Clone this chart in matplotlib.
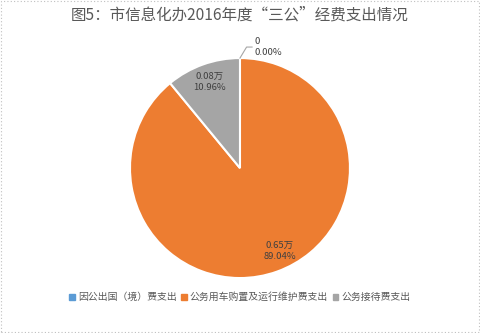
import numpy as np
import matplotlib.pyplot as plt
from matplotlib.patches import Rectangle

plt.rcParams['font.family'] = ['Noto Sans CJK SC', 'DejaVu Sans']

title = '图5：市信息化办2016年度“三公”经费支出情况'
categories = ['因公出国（境）费支出', '公务用车购置及运行维护费支出', '公务接待费支出']
values = [0, 0.65, 0.08]
value_labels = ['0', '0.65万', '0.08万']
colors = ['#5B9BD5', '#ED7D31', '#A5A5A5']

fig = plt.figure(figsize=(4.8, 3.33), dpi=100)
ax = fig.add_axes([0.2708, 0.165, 0.4583, 0.6607])

wedges, _ = ax.pie(values, colors=colors, startangle=90, counterclock=False,
                   wedgeprops=dict(edgecolor='white', linewidth=1.5))
ax.set_xlim(-1, 1)
ax.set_ylim(-1, 1)
ax.set_aspect('equal')

total = sum(values)
# label distance and small x nudge per slice (as in the original layout)
label_pos = {1: (0.80, 0.09), 2: (0.83, 0.0)}
for i, w in enumerate(wedges):
    pct = values[i] / total * 100
    txt = value_labels[i] + '\n' + '%.2f%%' % pct
    mid = np.deg2rad((w.theta1 + w.theta2) / 2)
    if values[i] == 0:
        # leader line for the empty slice
        x0, y0 = np.cos(mid), np.sin(mid)
        ax.plot([x0, x0 + 0.06, x0 + 0.11], [y0, y0 + 0.10, y0 + 0.10],
                color='#A6A6A6', lw=0.8, clip_on=False)
        ax.text(x0 + 0.13, y0 + 0.10, txt, ha='left', va='center',
                fontsize=6.8, color='#404040', linespacing=1.3)
    else:
        r, dx = label_pos[i]
        ax.text(r * np.cos(mid) + dx, r * np.sin(mid), txt, ha='center', va='center',
                fontsize=6.8, color='#404040', linespacing=1.3)

fig.text(0.5, 0.955, title, ha='center', va='center', fontsize=11.2, color='#595959')

handles = [Rectangle((0, 0), 1, 1, color=c) for c in colors]
fig.legend(handles, categories, loc='center', bbox_to_anchor=(0.5, 0.108),
           ncol=3, frameon=False, fontsize=7.1, handlelength=0.55, handleheight=0.55,
           handletextpad=0.3, columnspacing=0.5, labelcolor='#595959')

border = Rectangle((0.002, 0.003), 0.996, 0.994, transform=fig.transFigure,
                   fill=False, edgecolor='#BFBFBF', linestyle=(0, (1, 2)), linewidth=0.8)
fig.patches.append(border)

fig.savefig('out.png', dpi=100)
